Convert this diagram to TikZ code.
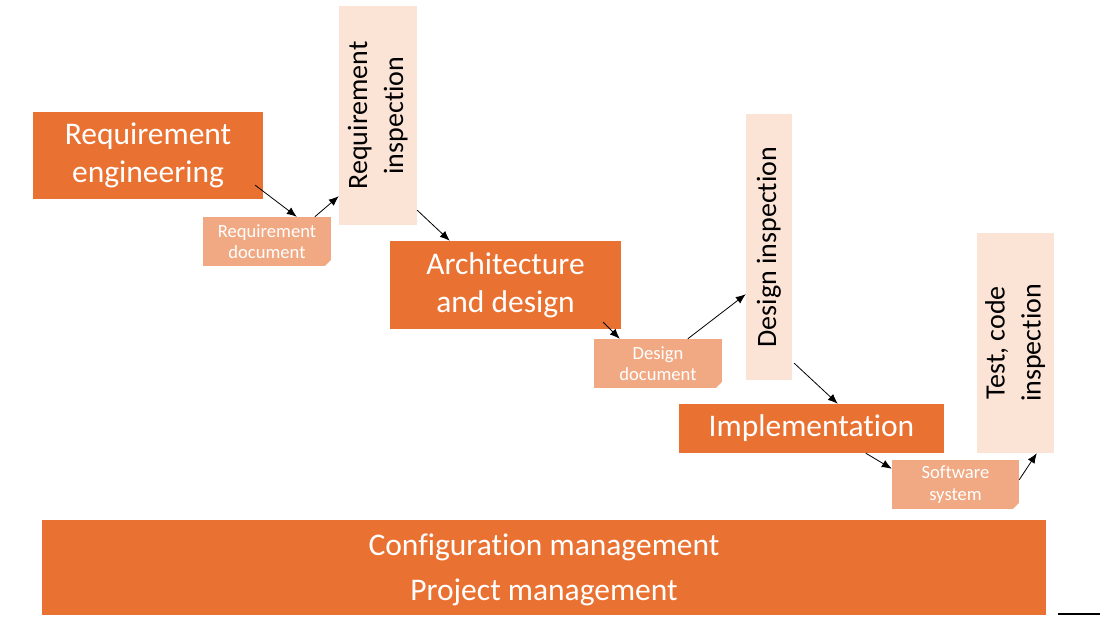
\documentclass[tikz,border=0pt]{standalone}
\usepackage{fontspec}
\setmainfont[Ligatures=NoCommon]{Carlito}
\usetikzlibrary{calc}
\usetikzlibrary{arrows.meta}

\definecolor{phasecol}{HTML}{E97132}
\definecolor{doccol}{HTML}{F1A983}
\definecolor{checkcol}{HTML}{FBE3D6}

\newcommand{\rottext}[1]{\rotatebox{90}{\begin{tabular}{@{}c@{}}#1\end{tabular}}}

\tikzset{
  phase/.style={rectangle,fill=phasecol,draw=none,text=white,align=center,inner sep=2pt,
    font=\fontsize{31.5}{38}\selectfont},
  docu/.style={rectangle,fill=doccol,draw=none,text=white,align=center,inner sep=2pt,
    minimum width=128,minimum height=49,font=\fontsize{18.6}{21.5}\selectfont,
    path picture={\fill[white] ([xshift=-6pt]path picture bounding box.south east) --
      (path picture bounding box.south east) -- ([yshift=6pt]path picture bounding box.south east) -- cycle;}},
  check/.style={rectangle,fill=checkcol,draw=none,text=black,inner sep=2pt,
    font=\fontsize{28}{36}\selectfont},
  flow/.style={black,line width=0.8pt,-{Latex[length=10pt,width=8pt]}}
}

\begin{document}
\begin{tikzpicture}[x=1pt,y=-1pt]
\useasboundingbox (0,0) rectangle (1104,617);

\node[phase,minimum width=230,minimum height=87] (reqeng) at (148,155.5) {Requirement\\engineering};
\node[docu] (reqdoc) at (267,241.5) {Requirement\\document};
\node[check,minimum width=78,minimum height=219] (reqinsp) at (378,115.5) {\rottext{Requirement\\inspection}};

\node[phase,minimum width=231,minimum height=88] (arch) at (505.5,285) {Architecture\\and design};
\node[docu] (desdoc) at (658,363.5) {Design\\document};
\node[check,minimum width=46,minimum height=266] (desinsp) at (769,247) {\rottext{Design inspection}};

\node[phase,minimum width=265,minimum height=49] (impl) at (811.5,428.5) {Implementation};
\node[docu,minimum width=127] (swsys) at (955.5,484.5) {Software\\system};
\node[check,minimum width=77,minimum height=220] (testinsp) at (1015.5,343) {\rottext{Test, code\\inspection}};

\node[phase,minimum width=1004,minimum height=95,text depth=0pt,font=\fontsize{31.5}{45}\selectfont] (mgmt) at (544,567.5) {Configuration management\\Project management};

\draw[flow] ($(reqeng.south east)+(-8,-14)$) -- ($(reqdoc.north west)+(94,0)$);
\draw[flow] ($(reqdoc.north west)+(112,0)$) -- ($(reqinsp.south west)+(0,-29)$);
\draw[flow] ($(reqinsp.south east)+(0,-15)$) -- ($(arch.north west)+(60,0)$);
\draw[flow] ($(arch.south east)+(-18,-7)$) -- ($(desdoc.north west)+(26,0)$);
\draw[flow] ($(desdoc.north west)+(94,0)$) -- ($(desinsp.south west)+(0,-86)$);
\draw[flow] ($(desinsp.south east)+(2,-17)$) -- ($(impl.north west)+(159,0)$);
\draw[flow] ($(impl.south west)+(187,0)$) -- ($(swsys.north west)+(0,9)$);
\draw[flow] ($(swsys.north east)+(0,20)$) -- ($(testinsp.south west)+(60,0)$);

\coordinate (rulea) at (1058,614);
\coordinate (ruleb) at (1100,614);
\draw[black,line width=1.2pt] (rulea) -- (ruleb);

\end{tikzpicture}
\end{document}
